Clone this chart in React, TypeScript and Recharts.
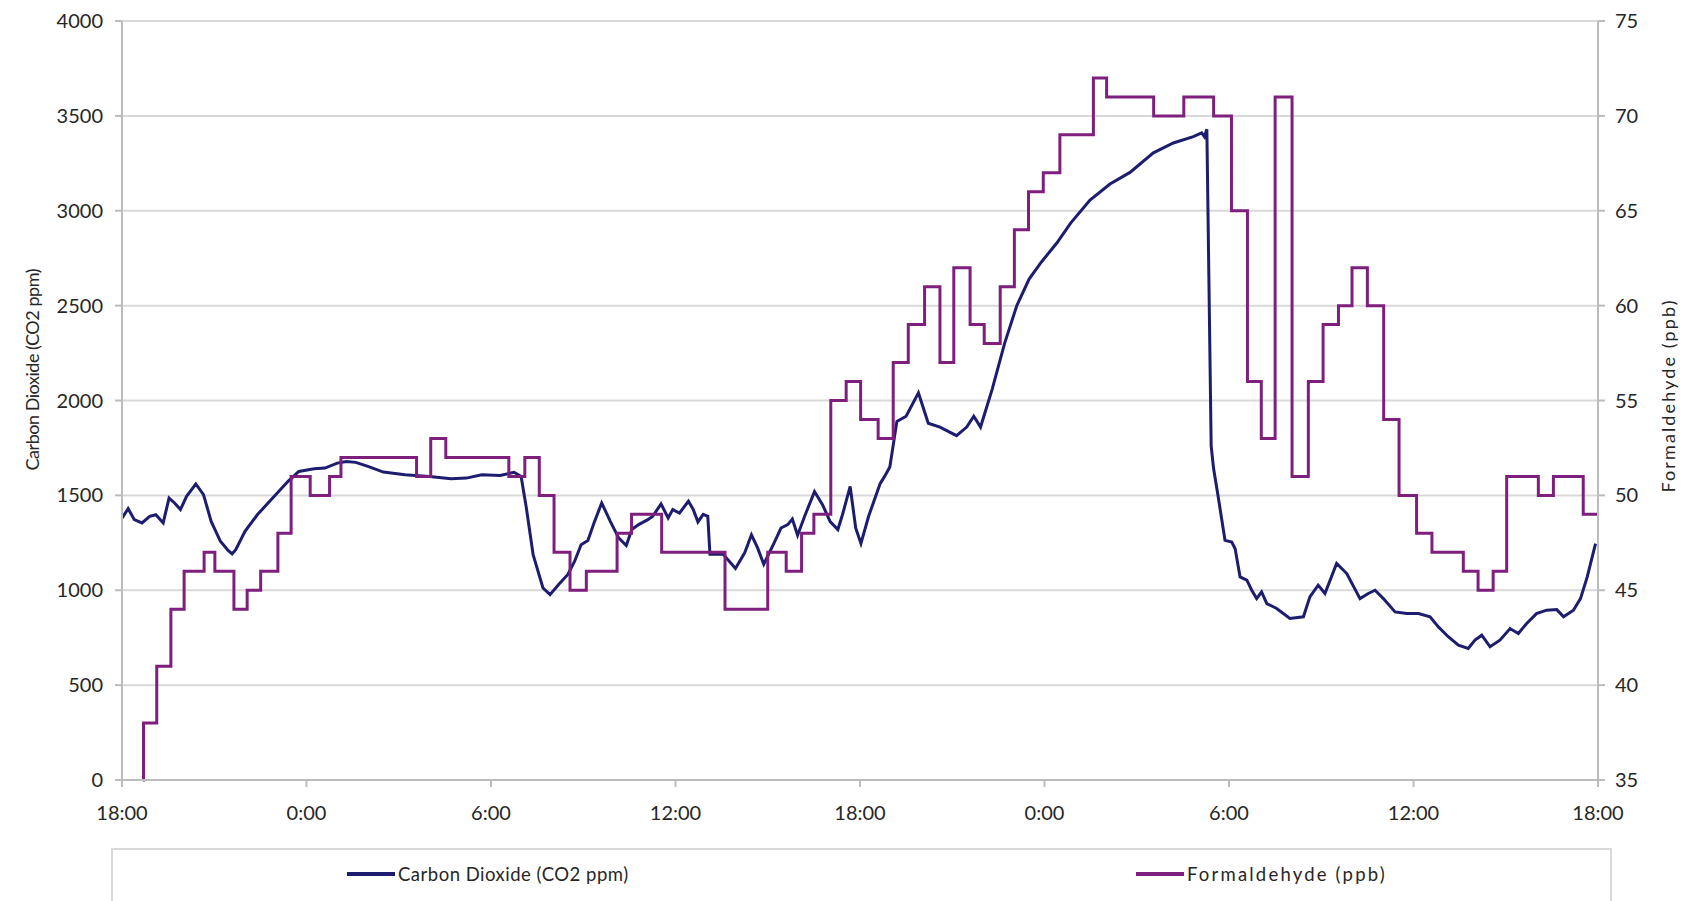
import { CartesianGrid, Legend, Line, LineChart, XAxis, YAxis } from "recharts";

// hours elapsed since 18:00 on the first evening
const timeTicks = [0, 6, 12, 18, 24, 30, 36, 42, 48];
const timeTickLabels = ["18:00", "0:00", "6:00", "12:00", "18:00", "0:00", "6:00", "12:00", "18:00"];
const co2Ticks = [0, 500, 1000, 1500, 2000, 2500, 3000, 3500, 4000];
const hchoTicks = [35, 40, 45, 50, 55, 60, 65, 70, 75];

const co2Hours = [
  0, 0.2, 0.4, 0.65, 0.9, 1.1, 1.34, 1.53, 1.71, 1.9, 2.1, 2.4, 2.65, 2.9, 3.2, 3.45, 3.58, 3.7, 4.0, 4.4,
  4.9, 5.4, 5.75, 6.25, 6.6, 7.0, 7.3, 7.6, 8.0, 8.5, 9.2, 10.0, 10.7, 11.2, 11.7, 12.3, 12.75, 12.98, 13.15, 13.37,
  13.69, 13.92, 14.2, 14.5, 14.72, 14.93, 15.15, 15.37, 15.6, 15.88, 16.15, 16.4, 16.58, 16.8, 17.1, 17.26, 17.53, 17.76, 17.91, 18.13,
  18.42, 18.58, 18.73, 18.9, 19.05, 19.12, 19.55, 19.95, 20.25, 20.47, 20.67, 20.87, 21.2, 21.43, 21.65, 21.8, 21.97, 22.2, 22.52, 22.78,
  23.03, 23.28, 23.43, 23.68, 23.86, 24.03, 24.28, 24.65, 24.8, 24.97, 25.2, 25.5, 25.9, 26.22, 26.6, 27.14, 27.47, 27.7, 27.92, 28.3,
  28.7, 29.1, 29.5, 29.9, 30.4, 30.85, 31.48, 32.13, 32.78, 33.54, 34.19, 34.84, 35.11, 35.2, 35.28, 35.42, 35.5, 35.65, 35.87, 36.09,
  36.2, 36.36, 36.58, 36.74, 36.9, 37.06, 37.23, 37.55, 37.98, 38.42, 38.63, 38.9, 39.12, 39.5, 39.83, 40.26, 40.53, 40.75, 41.02, 41.4,
  41.78, 42.16, 42.54, 42.81, 43.13, 43.46, 43.78, 44.0, 44.22, 44.49, 44.81, 45.14, 45.41, 45.68, 46.0, 46.33, 46.66, 46.88, 47.2, 47.43,
  47.65, 47.92,
];
const co2Ppm = [
  1380, 1430, 1372, 1355, 1390, 1398, 1355, 1486, 1460, 1425, 1495, 1560, 1504, 1363, 1258, 1210, 1192, 1214, 1311, 1398,
  1486, 1574, 1626, 1640, 1644, 1670, 1679, 1674, 1653, 1623, 1609, 1600, 1588, 1591, 1609, 1605, 1622, 1600, 1433, 1188,
  1012, 977, 1030, 1083, 1153, 1240, 1262, 1363, 1460, 1363, 1276, 1236, 1320, 1346, 1372, 1390, 1455, 1381, 1425, 1407,
  1469, 1425, 1360, 1400, 1390, 1190, 1190, 1115, 1197, 1292, 1223, 1137, 1247, 1328, 1346, 1375, 1290, 1390, 1520, 1451,
  1362, 1320, 1398, 1547, 1328, 1247, 1390, 1560, 1600, 1650, 1890, 1917, 2040, 1880, 1860, 1815, 1860, 1917, 1860, 2060,
  2300, 2500, 2640, 2730, 2830, 2935, 3056, 3141, 3202, 3305, 3357, 3391, 3410, 3390, 3430, 1760, 1640, 1491, 1263, 1254,
  1219, 1070, 1053, 1000, 956, 991, 930, 904, 851, 860, 965, 1027, 983, 1141, 1088, 956, 983, 1000, 956, 886,
  877, 877, 860, 807, 755, 711, 693, 737, 763, 702, 737, 798, 772, 825, 877, 895, 898, 860, 895, 956,
  1070, 1246,
];

// formaldehyde readings change in whole-ppb steps
const hchoHours = [
  0.68, 0.7, 1.13, 1.59, 2.02, 2.67, 3.02, 3.64, 4.07, 4.51, 5.07, 5.5, 6.12, 6.75, 7.12, 9.58, 10.04, 10.53, 12.58, 13.1,
  13.57, 14.05, 14.57, 15.1, 16.1, 16.57, 17.55, 19.61, 21.0, 21.6, 22.1, 22.5, 23.05, 23.55, 24.02, 24.59, 25.08, 25.57, 26.1, 26.6,
  27.05, 27.58, 28.04, 28.56, 29.02, 29.48, 29.96, 30.5, 31.59, 32.02, 33.55, 34.53, 35.5, 36.08, 36.6, 37.05, 37.5, 38.05, 38.58, 39.06,
  39.56, 40.0, 40.5, 41.03, 41.53, 42.1, 42.6, 43.62, 44.1, 44.59, 45.03, 46.06, 46.55, 47.52, 48,
];
const hchoPpb = [
  35, 38, 41, 44, 46, 47, 46, 44, 45, 46, 48, 51, 50, 51, 52, 51, 53, 52, 51, 52,
  50, 47, 45, 46, 48, 49, 47, 44, 47, 46, 48, 49, 55, 56, 54, 53, 57, 59, 61, 57,
  62, 59, 58, 61, 64, 66, 67, 69, 72, 71, 70, 71, 70, 65, 56, 53, 71, 51, 56, 59,
  60, 62, 60, 54, 50, 48, 47, 46, 45, 46, 51, 50, 51, 49, 49,
];

const co2Data = co2Hours.map((hour, i) => ({ hour, co2: co2Ppm[i] }));
const hchoData = hchoHours.map((hour, i) => ({ hour, hcho: hchoPpb[i] }));

const CO2_COLOR = "#1d1d6f";
const HCHO_COLOR = "#7e1f7e";
const FONT = "Lato, 'Open Sans', sans-serif";
const TEXT_COLOR = "#262626";
const axisStroke = { stroke: "#bcbcbc", strokeWidth: 2 };
const tickStyle = { fill: TEXT_COLOR, fontSize: 20, fontFamily: FONT };
const legendOffsets = [234, 1023];
const legendSpacing = [0.5, 2.2];

function AxisTitle({ viewBox, text, dx, dy, length }: any) {
  const cx = viewBox.x + dx;
  const cy = viewBox.y + viewBox.height / 2 + dy;
  return (
    <text
      x={cx}
      y={cy}
      transform={`rotate(-90 ${cx} ${cy})`}
      textAnchor="middle"
      dominantBaseline="central"
      textLength={length}
      lengthAdjust="spacing"
      fill={TEXT_COLOR}
      fontSize={18}
      fontFamily={FONT}
    >
      {text}
    </text>
  );
}

const renderLegend = (props: any) => (
  <div
    style={{
      position: "relative",
      width: 1501,
      height: 70,
      boxSizing: "border-box",
      border: "2px solid #d9d9d9",
      background: "#fff",
    }}
  >
    {(props.payload ?? []).map((entry: any, i: number) => (
      <div
        key={entry.value}
        style={{
          position: "absolute",
          left: legendOffsets[i],
          top: 24,
          transform: "translateY(-50%)",
          display: "flex",
          alignItems: "center",
        }}
      >
        <span style={{ display: "inline-block", width: 48, height: 4, background: entry.color }} />
        <span
          style={{
            marginLeft: 3,
            fontSize: 18.5,
            letterSpacing: legendSpacing[i],
            fontFamily: FONT,
            color: TEXT_COLOR,
            whiteSpace: "nowrap",
          }}
        >
          {entry.value}
        </span>
      </div>
    ))}
  </div>
);

export default function App() {
  return (
    <div
      style={{
        position: "absolute",
        left: 0,
        top: 0,
        width: 1693,
        height: 901,
        overflow: "hidden",
        background: "#fff",
        fontFamily: FONT,
      }}
    >
      <LineChart width={1693} height={901} margin={{ top: 21, right: 0, bottom: 11, left: 0 }}>
        <CartesianGrid yAxisId="co2" vertical={false} stroke="#d9d9d9" strokeWidth={2} />
        <XAxis
          dataKey="hour"
          type="number"
          domain={[0, 48]}
          ticks={timeTicks}
          tickFormatter={(v) => timeTickLabels[timeTicks.indexOf(v)]}
          height={40}
          tickSize={7}
          tickMargin={19}
          axisLine={axisStroke}
          tickLine={axisStroke}
          tick={tickStyle}
        />
        <YAxis
          yAxisId="co2"
          width={122}
          domain={[0, 4000]}
          ticks={co2Ticks}
          tickSize={7}
          tickMargin={12}
          axisLine={axisStroke}
          tickLine={axisStroke}
          tick={tickStyle}
          label={(p: any) => (
            <AxisTitle viewBox={p.viewBox} text="Carbon Dioxide (CO2 ppm)" dx={32} dy={-31} length={202} />
          )}
        />
        <YAxis
          yAxisId="hcho"
          orientation="right"
          width={95}
          domain={[35, 75]}
          ticks={hchoTicks}
          tickSize={7}
          tickMargin={10}
          axisLine={axisStroke}
          tickLine={axisStroke}
          tick={tickStyle}
          label={(p: any) => (
            <AxisTitle viewBox={p.viewBox} text="Formaldehyde (ppb)" dx={70} dy={-4} length={192} />
          )}
        />
        <Legend
          verticalAlign="bottom"
          content={renderLegend}
          wrapperStyle={{ left: 111, top: 848, bottom: "auto", width: 1501, height: 70 }}
        />
        <Line
          data={co2Data}
          dataKey="co2"
          name="Carbon Dioxide (CO2 ppm)"
          yAxisId="co2"
          type="linear"
          stroke={CO2_COLOR}
          strokeWidth={3}
          dot={false}
          isAnimationActive={false}
        />
        <Line
          data={hchoData}
          dataKey="hcho"
          name="Formaldehyde (ppb)"
          yAxisId="hcho"
          type="stepAfter"
          stroke={HCHO_COLOR}
          strokeWidth={3}
          dot={false}
          isAnimationActive={false}
        />
      </LineChart>
    </div>
  );
}
